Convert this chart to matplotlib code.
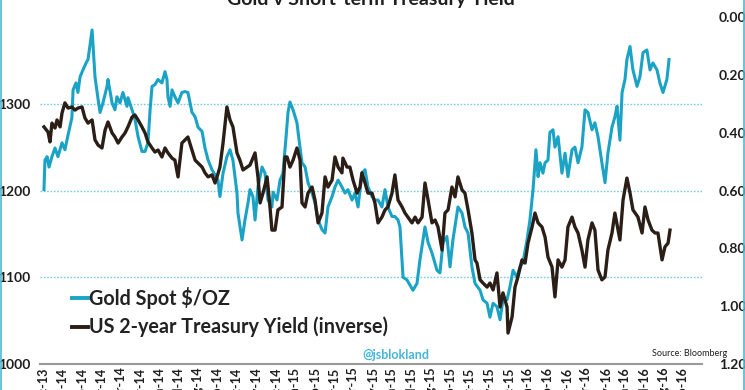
import matplotlib
matplotlib.use('Agg')
import matplotlib.pyplot as plt
from matplotlib.lines import Line2D

# x positions are in months after the Dec-13 month-end tick
month_labels = ['Dec-13', 'Jan-14', 'Feb-14', 'Mar-14', 'Apr-14', 'May-14', 'Jun-14',
                'Jul-14', 'Aug-14', 'Sep-14', 'Oct-14', 'Nov-14', 'Dec-14', 'Jan-15',
                'Feb-15', 'Mar-15', 'Apr-15', 'May-15', 'Jun-15', 'Jul-15', 'Aug-15',
                'Sep-15', 'Oct-15', 'Nov-15', 'Dec-15', 'Jan-16', 'Feb-16', 'Mar-16',
                'Apr-16', 'May-16', 'Jun-16', 'Jul-16', 'Aug-16', 'Sep-16']

gold_x = [0.05, 0.10, 0.21, 0.31, 0.46, 0.62, 0.77, 0.98, 1.13, 1.29, 1.49, 1.55, 1.70, 1.80,
          1.91, 2.06, 2.22, 2.32, 2.53, 2.68, 2.84, 2.94, 3.09, 3.30, 3.35, 3.56, 3.71, 3.81,
          3.97, 4.12, 4.33, 4.38, 4.59, 4.74, 4.90, 5.10, 5.26, 5.41, 5.52, 5.62, 5.77, 5.93,
          6.13, 6.29, 6.39, 6.44, 6.55, 6.65, 6.80, 6.96, 7.16, 7.32, 7.47, 7.68, 7.84, 7.99,
          8.20, 8.35, 8.51, 8.71, 8.87, 9.02, 9.12, 9.28, 9.48, 9.64, 9.79, 10.00, 10.05, 10.26,
          10.41, 10.57, 10.67, 10.82, 10.93, 11.08, 11.29, 11.44, 11.60, 11.80, 11.86, 12.06,
          12.22, 12.37, 12.53, 12.63, 12.73, 12.89, 13.09, 13.20, 13.35, 13.51, 13.66, 13.87,
          14.02, 14.18, 14.38, 14.54, 14.69, 14.90, 15.05, 15.21, 15.41, 15.57, 15.72, 15.93,
          16.08, 16.24, 16.44, 16.60, 16.75, 16.96, 17.11, 17.27, 17.47, 17.63, 17.78, 17.99,
          18.14, 18.30, 18.40, 18.56, 18.76, 19.07, 19.28, 19.43, 19.69, 19.85, 20.05, 20.31,
          20.46, 20.62, 20.82, 20.98, 21.13, 21.39, 21.60, 21.75, 21.91, 22.11, 22.27, 22.53,
          22.68, 22.89, 23.04, 23.20, 23.40, 23.56, 23.71, 23.92, 24.07, 24.23, 24.43, 24.59,
          24.74, 24.95, 25.10, 25.26, 25.41, 25.52, 25.62, 25.77, 25.88, 26.03, 26.13, 26.29,
          26.39, 26.55, 26.75, 26.91, 27.06, 27.27, 27.42, 27.58, 27.78, 27.94, 28.09, 28.30,
          28.45, 28.61, 28.81, 28.97, 29.12, 29.33, 29.48, 29.59, 29.74, 29.85, 30.00, 30.10,
          30.26, 30.41, 30.62, 30.77, 30.93, 31.13, 31.29, 31.44, 31.65, 31.80, 31.96, 32.16,
          32.27]
gold_usd = [1201, 1235, 1239, 1227, 1239, 1249, 1239, 1255, 1247, 1264, 1284, 1316, 1324, 1313,
            1331, 1339, 1347, 1351, 1385, 1331, 1305, 1290, 1301, 1320, 1328, 1301, 1293, 1308,
            1301, 1313, 1297, 1307, 1293, 1282, 1262, 1245, 1245, 1255, 1293, 1320, 1322, 1328,
            1324, 1337, 1328, 1308, 1297, 1316, 1308, 1301, 1313, 1314, 1313, 1290, 1285, 1273,
            1268, 1249, 1235, 1224, 1218, 1212, 1193, 1220, 1239, 1247, 1235, 1197, 1174, 1143,
            1166, 1186, 1201, 1193, 1166, 1204, 1227, 1220, 1189, 1181, 1198, 1189,
            1212, 1220, 1262, 1290, 1302, 1293, 1278, 1258, 1232, 1227, 1209, 1197,
            1186, 1166, 1155, 1151, 1181, 1193, 1204, 1212, 1204, 1197, 1201, 1189,
            1197, 1181, 1220, 1224, 1204, 1193, 1189, 1189, 1181, 1201, 1181, 1170,
            1170, 1166, 1158, 1100, 1097, 1085, 1093, 1120, 1158, 1140, 1128, 1108,
            1105, 1140, 1147, 1112, 1143, 1181, 1174, 1158, 1151, 1112, 1093, 1085,
            1074, 1070, 1054, 1070, 1066, 1051, 1074, 1074, 1089, 1108, 1100, 1112,
            1117, 1143, 1166, 1201, 1247, 1216, 1232, 1220, 1232, 1235, 1267, 1270,
            1250, 1262, 1220, 1243, 1216, 1247, 1250, 1232, 1250, 1293, 1290, 1270,
            1278, 1262, 1232, 1209, 1243, 1273, 1285, 1297, 1258, 1313, 1328, 1351,
            1366, 1339, 1320, 1331, 1359, 1362, 1339, 1347, 1339, 1324, 1313, 1328,
            1351]

yield_x = [0.05, 0.26, 0.36, 0.46, 0.62, 0.72, 0.88, 0.98, 1.13, 1.29, 1.49, 1.65, 1.80, 2.01,
           2.16, 2.32, 2.53, 2.68, 2.84, 3.04, 3.20, 3.35, 3.56, 3.71, 3.87, 4.07, 4.23, 4.38,
           4.59, 4.74, 4.90, 5.10, 5.26, 5.41, 5.62, 5.77, 5.93, 6.13, 6.29, 6.44, 6.65, 6.80,
           6.96, 7.16, 7.32, 7.47, 7.68, 7.84, 7.99, 8.20, 8.35, 8.51, 8.71, 8.87, 8.97, 9.12,
           9.28, 9.48, 9.64, 9.79, 10.00, 10.15, 10.31, 10.52, 10.67, 10.93, 11.08, 11.19, 11.34,
           11.55, 11.70, 11.80, 11.96, 12.11, 12.32, 12.47, 12.58, 12.73, 12.89, 13.09, 13.25,
           13.35, 13.51, 13.66, 13.87, 14.02, 14.18, 14.38, 14.54, 14.69, 14.90, 15.05, 15.21,
           15.41, 15.46, 15.67, 15.82, 15.98, 16.19, 16.34, 16.44, 16.60, 16.75, 16.96, 17.11,
           17.27, 17.47, 17.63, 17.78, 17.99, 18.14, 18.30, 18.51, 18.66, 18.81, 19.02, 19.18,
           19.33, 19.54, 19.69, 19.85, 20.05, 20.21, 20.36, 20.57, 20.72, 20.88, 21.08, 21.24,
           21.39, 21.60, 21.75, 21.91, 22.11, 22.27, 22.37, 22.53, 22.68, 22.89, 23.04, 23.20,
           23.40, 23.56, 23.71, 23.92, 23.97, 24.18, 24.33, 24.48, 24.69, 24.85, 25.00, 25.21,
           25.36, 25.52, 25.72, 25.88, 26.03, 26.24, 26.39, 26.55, 26.75, 26.91, 27.06, 27.27,
           27.42, 27.58, 27.78, 27.94, 28.09, 28.30, 28.45, 28.61, 28.81, 28.97, 29.12, 29.33,
           29.48, 29.74, 29.90, 30.10, 30.26, 30.41, 30.67, 30.88, 31.03, 31.19, 31.39, 31.55,
           31.70, 31.91, 32.06, 32.22, 32.32]
yield_pct = [0.380, 0.398, 0.432, 0.367, 0.384, 0.356, 0.380, 0.332, 0.297, 0.315, 0.311, 0.322,
             0.315, 0.311, 0.349, 0.367, 0.356, 0.425, 0.443, 0.453, 0.391, 0.363, 0.401, 0.415,
             0.436, 0.415, 0.401, 0.380, 0.346, 0.339, 0.356, 0.380, 0.401, 0.432, 0.453, 0.467,
             0.460, 0.484, 0.453, 0.470, 0.488, 0.495, 0.553, 0.436, 0.425, 0.415, 0.460, 0.495,
             0.505, 0.519, 0.539, 0.553, 0.546, 0.574, 0.553, 0.519, 0.436, 0.311, 0.356, 0.380,
             0.470, 0.495, 0.529, 0.519, 0.512, 0.470, 0.553, 0.643, 0.609, 0.553, 0.657, 0.737,
             0.737, 0.667, 0.657, 0.484, 0.484, 0.519, 0.495, 0.453, 0.495, 0.643, 0.657, 0.609,
             0.588, 0.633, 0.712, 0.678, 0.553, 0.588, 0.564, 0.484, 0.519, 0.539, 0.488, 0.519,
             0.519, 0.564, 0.609, 0.588, 0.539, 0.574, 0.609, 0.609, 0.643, 0.712, 0.692, 0.667,
             0.657, 0.609, 0.546, 0.633, 0.657, 0.678, 0.692, 0.712, 0.692, 0.712, 0.692, 0.574,
             0.633, 0.712, 0.702, 0.726, 0.806, 0.678, 0.667, 0.588, 0.622, 0.553, 0.598, 0.609,
             0.667, 0.747, 0.840, 0.851, 0.909, 0.920, 0.934, 0.920, 0.944, 0.885, 1.003, 0.954,
             1.003, 1.093, 1.037, 0.934, 0.899, 0.840, 0.851, 0.782, 0.726, 0.678, 0.712, 0.726,
             0.761, 0.830, 0.865, 0.968, 0.840, 0.865, 0.840, 0.726, 0.692, 0.726, 0.747, 0.806,
             0.865, 0.771, 0.712, 0.737, 0.875, 0.909, 0.899, 0.806, 0.747, 0.678, 0.771, 0.633,
             0.557, 0.609, 0.667, 0.692, 0.747, 0.657, 0.702, 0.737, 0.747, 0.747, 0.840, 0.795,
             0.782, 0.737]

left_ticks = [1000, 1100, 1200, 1300]
right_ticks = [0.0, 0.2, 0.4, 0.6, 0.8, 1.0, 1.2]

title = 'Gold v Short-term Treasury Yield'
gold_label = 'Gold Spot $/OZ'
yield_label = 'US 2-year Treasury Yield (inverse)'

BLUE = '#1BA3C6'
DARK = '#2A1E16'
TXT = '#1E1E1E'
FONT = 'Lato'

W, H = 745, 390
fig = plt.figure(figsize=(W / 100, H / 100), dpi=100)
ax = fig.add_axes([40 / W, 26 / H, 662 / W, 347 / H])
ax.set_xlim(-0.155, 33.97)
ax.set_ylim(1000, 1400)

for g in [1100, 1200, 1300]:
    ax.axhline(g, color='#7CCBE0', lw=1.0, ls=(0, (1.2, 1.2)), zorder=0)

ax.plot(gold_x, gold_usd, color=BLUE, lw=2.2, zorder=2, solid_joinstyle='round')

ax2 = ax.twinx()
ax2.set_ylim(1.2, 0.0)
ax2.plot(yield_x, yield_pct, color=DARK, lw=2.4, zorder=3, solid_joinstyle='round')

for a in (ax, ax2):
    for s in a.spines.values():
        s.set_visible(False)
ax.spines['bottom'].set_visible(True)
ax.spines['bottom'].set_color('#9A9A9A')
ax.spines['bottom'].set_linewidth(1.5)

ax.set_xticks(range(len(month_labels)))
ax.set_xticklabels(month_labels, rotation=90, fontsize=9, fontweight='bold',
                   family=FONT, color=TXT, va='top', ha='center')
ax.tick_params(axis='x', length=0, pad=2.5)

ax.set_yticks(left_ticks)
ax.set_yticklabels([str(t) for t in left_ticks], fontsize=10, fontweight='bold',
                   family=FONT, color=TXT)
ax.tick_params(axis='y', length=0, pad=7)

ax2.set_yticks(right_ticks)
ax2.set_yticklabels(['%.2f' % t for t in right_ticks], fontsize=10, fontweight='bold',
                    family=FONT, color=TXT)
ax2.tick_params(axis='y', length=0, pad=12)

# title (partly cut off at top as in the reference)
fig.text(371 / W, 1 - 5 / H, title, ha='center', va='baseline', fontsize=14,
         fontweight='bold', family=FONT, color=TXT)

# legend
for yy, col, lab in [(298, BLUE, gold_label), (327, DARK, yield_label)]:
    fig.add_artist(Line2D([72 / W, 88 / W], [1 - yy / H, 1 - yy / H], color=col, lw=2.8,
                          transform=fig.transFigure))
    fig.text(89 / W, 1 - yy / H, lab, ha='left', va='center', fontsize=14.2,
             family=FONT, fontweight='bold', color='#222222')

fig.text(396 / W, 1 - 355 / H, '@jsblokland', ha='center', va='center', fontsize=9,
         family=FONT, fontweight='bold', color='#45B6DA')
fig.text(727 / W, 1 - 353 / H, 'Source: Bloomberg', ha='right', va='center', fontsize=6.5,
         family=FONT, color=TXT)

# thin frame on the sides
for xx in (0.6 / W, 1 - 0.6 / W):
    fig.add_artist(Line2D([xx, xx], [0, 1], color='#4FB8D8', lw=1.2,
                          transform=fig.transFigure))

fig.savefig('out.png', dpi=100)
